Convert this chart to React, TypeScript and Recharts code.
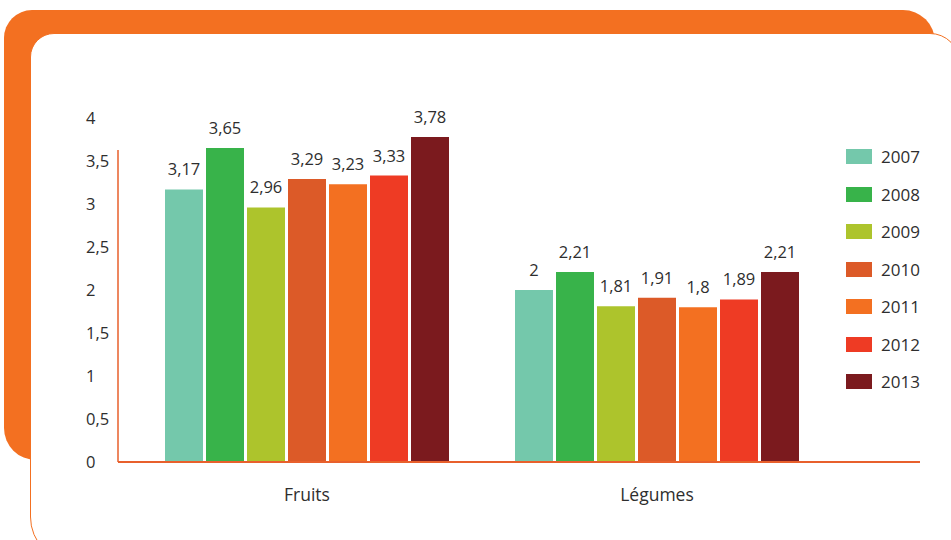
import { BarChart, Bar, XAxis, YAxis, LabelList } from 'recharts';

const categories = ['Fruits', 'Légumes'];
const years = ['2007', '2008', '2009', '2010', '2011', '2012', '2013'];
const fruits = [3.17, 3.65, 2.96, 3.29, 3.23, 3.33, 3.78];
const legumes = [2, 2.21, 1.81, 1.91, 1.8, 1.89, 2.21];
const yTicks = [0, 0.5, 1, 1.5, 2, 2.5, 3, 3.5, 4];
const colors = ['#74c8ab', '#38b34a', '#adc42c', '#dc5a28', '#f37021', '#ee3b24', '#7b1a1e'];

const data = categories.map((name, i) => {
  const row: Record<string, string | number> = { name };
  const values = i === 0 ? fruits : legumes;
  years.forEach((y, j) => {
    row[y] = values[j];
  });
  return row;
});

const FONT = '"Open Sans", sans-serif';
const TEXT = '#2e2e2e';
const ORANGE = '#f37021';
const AXIS = '#e8602c';

const fmt = (v: number) => String(v).replace('.', ',');

function YTick({ x, y, payload }: any) {
  return (
    <text x={x - 32} y={y} dy={6} textAnchor="start" fill={TEXT} fontSize={16.5} fontFamily={FONT}>
      {fmt(payload.value)}
    </text>
  );
}

function LegendBox() {
  return (
    <div style={{ fontFamily: FONT, fontSize: 17, color: TEXT }}>
      {years.map((y, i) => (
        <div key={y} style={{ display: 'flex', alignItems: 'center', height: 37.5 }}>
          <span style={{ display: 'inline-block', width: 26, height: 15, background: colors[i], marginRight: 9 }} />
          <span>{y}</span>
        </div>
      ))}
    </div>
  );
}

export default function App() {
  return (
    <div style={{ position: 'absolute', left: 0, top: 0, width: 951, height: 540, overflow: 'hidden', background: '#fff' }}>
      <div
        style={{
          position: 'absolute', left: 4, top: 10, width: 931, height: 450, background: ORANGE,
          borderTopLeftRadius: 28, borderTopRightRadius: 32, borderBottomLeftRadius: 32,
        }}
      />
      <div
        style={{
          position: 'absolute', left: 30, top: 33, width: 930, height: 530, background: '#fff',
          border: `1.5px solid ${ORANGE}`, boxSizing: 'border-box',
          borderTopLeftRadius: 24, borderTopRightRadius: 30, borderBottomLeftRadius: 46,
        }}
      />
      <div style={{ position: 'absolute', left: 0, top: 0 }}>
        <BarChart
          width={951}
          height={540}
          data={data}
          margin={{ top: 118, right: 31, left: 0, bottom: 28 }}
          barCategoryGap={33}
          barGap={3}
        >
          <XAxis
            dataKey="name"
            height={50}
            padding={{ left: 14, right: 88 }}
            axisLine={{ stroke: AXIS, strokeWidth: 2 }}
            tickLine={false}
            tickMargin={21}
            tick={{ fill: TEXT, fontSize: 17.5, fontFamily: FONT }}
          />
          <YAxis
            width={118}
            domain={[0, 4]}
            ticks={yTicks}
            interval={0}
            tickSize={0}
            tickMargin={0}
            tickLine={false}
            axisLine={{ stroke: AXIS, strokeWidth: 1.5, strokeDasharray: '0 32 400 0' }}
            tick={<YTick />}
          />
          {years.map((y, i) => (
            <Bar key={y} dataKey={y} fill={colors[i]} isAnimationActive={false}>
              <LabelList
                dataKey={y}
                position="top"
                offset={14}
                formatter={(v: any) => fmt(v)}
                style={{ fill: TEXT, fontSize: 16.5, fontFamily: FONT }}
              />
            </Bar>
          ))}
        </BarChart>
      </div>
      <div style={{ position: 'absolute', left: 846, top: 138 }}>
        <LegendBox />
      </div>
    </div>
  );
}
